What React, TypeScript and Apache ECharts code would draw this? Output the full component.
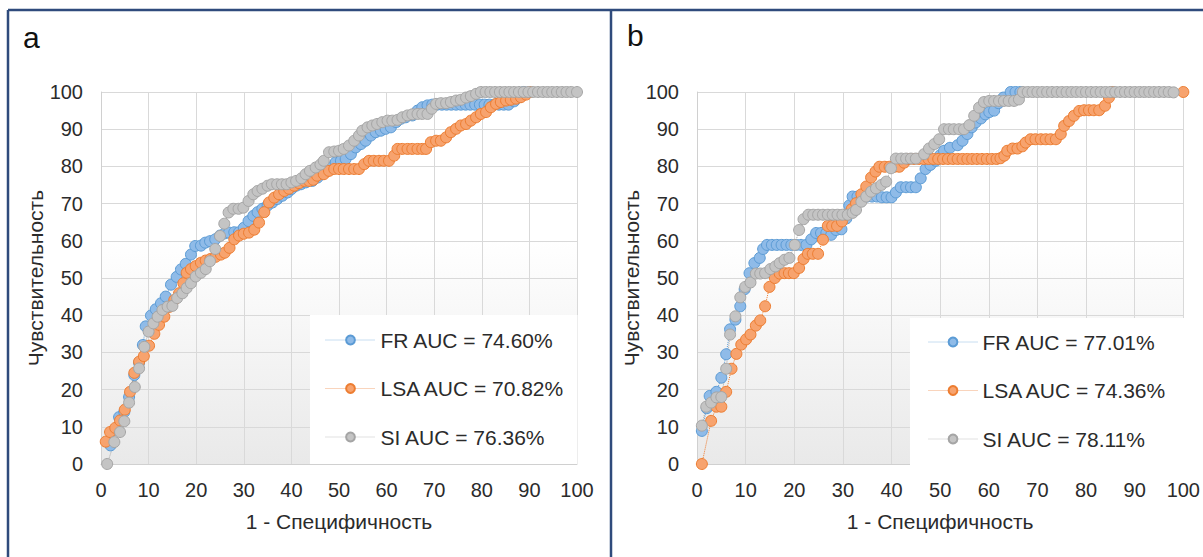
import React, { useEffect, useRef } from "react";
import * as echarts from "echarts";

// ---------- Panel a ----------
const aFR: number[][] = [
  [2, 5], [3, 9.2], [3.8, 12.6], [4.9, 14], [5.9, 18], [7, 23.9], [8, 27.2], [8.8, 32], [9.4, 37], [10.5, 39.9],
  [11.5, 41.6], [12.6, 43.2], [13.6, 45], [14.7, 48.2], [15.9, 50.3], [16.8, 52.3], [17.8, 53.8], [18.9, 56.3],
  [19.8, 58.6], [21, 58.7], [21.9, 59.5], [22.9, 59.9], [24, 60.4], [25, 61.4], [26, 62], [26.9, 62.2], [28, 62.3],
  [29, 62.3], [30, 63.5], [31, 65.3], [32, 66.7], [32.9, 67.7], [33.9, 68.6], [35, 69.5], [36, 70.3], [37, 71.2],
  [38.1, 72.1], [39.2, 73], [40, 73.9], [41, 74.8], [42, 75.2], [43, 75.7], [44.4, 76.1], [45.5, 77], [46.5, 78],
  [47.2, 79], [48.2, 79.7], [49.3, 81.1], [50.4, 81.5], [51.4, 82], [52.5, 83.3], [53.5, 85.1], [54.6, 86],
  [55.6, 86.9], [56.7, 88.3], [57.7, 89.2], [58.8, 89.6], [59.8, 90.1], [60.9, 90.5], [62, 91.9], [63, 92.8],
  [64, 93.2], [65.4, 93.7], [66.5, 95], [67.5, 95.9], [68.6, 96.4], [69.6, 96.6], [70.6, 96.6], [71.6, 96.6],
  [72.6, 96.6], [73.6, 96.6], [74.6, 96.6], [75.6, 96.6], [76.6, 96.6], [77.6, 96.6], [78.6, 96.6], [79.6, 96.6],
  [80.6, 96.6], [81.6, 96.6], [82.6, 96.6], [83.6, 96.6], [84.6, 96.6], [85.6, 96.6], [86.8, 97.5], [87.8, 98.6],
  [88.8, 100],
];
const aLSA: number[][] = [
  [1, 6], [1.9, 8.6], [3, 9.7], [4, 11.7], [5, 14.6], [6.1, 19.4], [7, 24.5], [8, 27.5], [9, 29], [10.1, 31.8],
  [11.2, 35], [12.2, 37.4], [13.3, 39.6], [14.3, 42.2], [15.4, 44.1], [16.4, 45.9], [17.3, 48.6], [18, 51.4],
  [18.9, 52.4], [19.9, 53.2], [21, 54.1], [22, 54.7], [23, 55.1], [24.1, 55.7], [25.2, 56.3], [26, 56.8],
  [27, 58.1], [28, 60.4], [29, 61.4], [30, 61.9], [31.1, 62.2], [32.2, 63], [33.2, 64.9], [34.3, 67.7],
  [35.3, 70.3], [36.4, 71.6], [37.4, 72.5], [38.5, 73.4], [39.5, 74], [40.6, 74.8], [41.6, 75.5], [42.7, 76.1],
  [43.7, 76.1], [44.6, 76.4], [45.4, 77.5], [46.8, 77.9], [47.9, 78.8], [49, 79.3], [50, 79.3], [51, 79.3],
  [52.1, 79.3], [53.2, 79.3], [54.2, 79.3], [55.3, 80.6], [56.3, 81.5], [57.3, 81.5], [58.4, 81.5], [59.4, 81.5],
  [60.5, 81.5], [61.6, 82.9], [62.3, 84.7], [63.3, 84.7], [64.4, 84.7], [65.4, 84.7], [66.5, 84.7], [67.5, 84.7],
  [68.3, 84.7], [69.3, 86.5], [70.4, 86.9], [71.4, 86.9], [72.5, 87.8], [73.5, 89.2], [74.6, 90.1], [75.6, 91],
  [76.7, 91.4], [77.7, 92.3], [78.8, 93.2], [79.8, 94.1], [80.9, 94.6], [81.9, 95.9], [83, 96.8], [84, 97.3],
  [85.1, 97.7], [86.1, 97.9], [87.2, 98.2], [88.2, 98.6], [89.3, 99.3], [90.1, 100],
];
const aSI: number[][] = [
  [1.3, 0], [2.8, 5.9], [4, 8.6], [4.9, 11.5], [5.9, 16.5], [7.1, 20.7], [8, 25.7], [9.1, 31.5], [10, 35.6],
  [11, 37.8], [11.9, 39.6], [12.9, 41.4], [14, 42.3], [15, 42.5], [16, 44.6], [17.1, 45.9], [18, 47.3],
  [18.9, 48.6], [19.9, 50.4], [21, 51.4], [22, 52.4], [22.9, 54.5], [24, 57.8], [25, 61.3], [25.9, 64.6],
  [26.8, 67.6], [27.8, 68.6], [28.9, 68.6], [29.9, 68.9], [31, 70.7], [32, 72.5], [32.9, 73.4], [33.9, 74],
  [35, 74.8], [35.9, 75.2], [37, 75.2], [38, 75.2], [39, 75.2], [40, 75.7], [41, 76.1], [42.1, 76.8], [43, 77.9],
  [43.9, 78.8], [45.1, 79.7], [46.1, 80.5], [46.8, 81.5], [47.9, 83.8], [49, 84], [50, 84.2], [51, 84.7],
  [52.1, 85.6], [53.2, 86.9], [54.2, 88.3], [54.9, 89.6], [56, 90.5], [57, 91], [58, 91.4], [59.1, 91.9],
  [60.2, 92.3], [61.2, 92.3], [62.3, 92.5], [63.3, 93.2], [64.4, 93.7], [65.4, 94], [66.5, 94.1], [67.5, 94.1],
  [68.6, 94.1], [69.5, 95.5], [70.4, 96.8], [71.4, 97], [72.5, 97], [73.5, 97.3], [74.6, 97.7], [75.6, 97.9],
  [76.7, 98.5], [77.7, 98.9], [78.8, 99.5], [79.8, 100], [80.8, 100], [81.8, 100], [82.8, 100], [83.8, 100],
  [84.8, 100], [85.8, 100], [86.8, 100], [87.8, 100], [88.8, 100], [89.8, 100], [90.8, 100], [91.8, 100],
  [92.8, 100], [93.8, 100], [94.8, 100], [95.8, 100], [96.8, 100], [97.8, 100], [98.8, 100], [100, 100],
];

// ---------- Panel b ----------
const bFR: number[][] = [
  [1, 8.9], [2, 15], [2.6, 18.3], [4, 19.4], [5, 23.2], [6, 29.5], [6.8, 36.2], [7.9, 38.8], [8.9, 42.4],
  [9.8, 47], [10.8, 51.3], [11.8, 54], [12.9, 55.4], [13.6, 57.8], [14.4, 58.9], [15.4, 58.9], [16.4, 58.9],
  [17.4, 58.9], [18.4, 58.9], [19.4, 58.9], [20.4, 58.9], [21.4, 58.9], [22.5, 58.9], [23.5, 60.4], [24.5, 62.1],
  [25.5, 62.1], [26.6, 62.1], [27.6, 61.6], [28.6, 62.9], [29.7, 63.1], [30.7, 66], [31.3, 69.5], [32, 71.9],
  [33, 71.9], [34, 71.9], [35, 71.9], [36, 71.9], [37, 71.9], [38, 71.7], [39, 71.7], [40, 71.7], [40.9, 73],
  [41.9, 74.4], [43, 74.4], [44, 74.4], [45, 74.4], [46, 76.8], [47, 79.3], [48, 80.4], [49.1, 81.5], [50, 83],
  [50.8, 84.2], [52, 85], [53.6, 85.7], [54.6, 86.9], [55.6, 88.7], [56.5, 90.5], [57.3, 91.8], [58.4, 92.9],
  [59.3, 94], [60.1, 94.6], [61.1, 95], [62, 97], [63, 98.5], [64.5, 100], [65.5, 100], [66.5, 100],
];
const bLSA: number[][] = [
  [1, 0], [2.9, 11.6], [4, 15.4], [5, 15.4], [6, 19.4], [7.1, 25.6], [8.1, 29.6], [9.1, 32.1], [10.1, 33.5],
  [11, 34.8], [12.1, 37.2], [13, 38.6], [14, 42.4], [14.9, 47.6], [16, 50], [17, 51.2], [18, 51.3], [18.9, 51.3],
  [19.9, 51.3], [21, 52.7], [21.9, 55.1], [22.8, 56.5], [23.8, 56.5], [24.9, 56.5], [25.9, 60.3], [26.9, 64],
  [27.8, 64], [28.8, 64], [29.8, 65.2], [30.8, 67], [31.8, 68.5], [32.7, 70.1], [33.8, 72.5], [34.8, 74.6],
  [35.8, 77], [36.7, 78.6], [37.5, 79.9], [38.6, 79.9], [39.6, 79.9], [40.6, 79.9], [41.6, 79.9], [42.6, 81],
  [43.6, 82], [44.6, 82], [45.6, 82], [46.6, 82], [47.6, 82], [48.6, 82], [49.6, 82], [50.6, 82], [51.6, 82],
  [52.6, 82], [53.6, 82], [54.6, 82], [55.6, 82], [56.6, 82], [57.6, 82], [58.6, 82], [59.6, 82], [60.6, 82],
  [61.6, 82], [62.4, 82.2], [63.2, 82.9], [63.8, 84.2], [64.9, 84.8], [65.9, 84.8], [66.9, 85.4], [67.6, 86.4],
  [68.6, 87.3], [69.6, 87.3], [70.7, 87.3], [71.7, 87.3], [72.7, 87.3], [73.8, 87.3], [74.8, 88.7], [75.5, 90.9],
  [76.5, 92.2], [77.5, 93.6], [78.6, 94.9], [79.6, 95.1], [80.6, 95.1], [81.6, 95.1], [82.7, 95.1], [83.9, 96.3],
  [84.7, 98.5], [85.4, 100], [100, 100],
];
const bSI: number[][] = [
  [1, 10.3], [1.9, 15.4], [2.9, 16.5], [4, 17.9], [5, 18], [6, 25.6], [6.8, 34.8], [7.9, 39.7], [8.9, 44.8],
  [9.9, 47.6], [11, 48.8], [12.1, 51.2], [13, 51.2], [14, 51.3], [15.1, 52.4], [16.1, 53.1], [17, 54], [18, 54.9],
  [19, 55.4], [20.1, 58.9], [21, 62.9], [21.9, 65.8], [22.9, 67], [23.9, 67], [24.9, 67], [25.9, 67], [26.9, 67],
  [27.9, 67], [28.9, 67], [29.9, 67], [31, 67], [32, 67.5], [32.7, 68.3], [33.8, 70.5], [34.8, 71.9], [35.8, 73.2],
  [36.8, 74.1], [37.9, 75], [38.9, 75.9], [39.9, 79.5], [40.9, 82.1], [42, 82.1], [43, 82.1], [44, 82.1],
  [45, 82.1], [46.7, 83.3], [47.7, 84.8], [48.8, 86], [49.8, 87.3], [50.8, 90], [51.8, 90], [52.8, 90], [53.9, 90],
  [54.9, 90], [56, 91.1], [57, 93.6], [58, 95.8], [59, 97.3], [60.1, 97.6], [61.1, 97.6], [62.1, 97.6],
  [63.1, 97.6], [64.1, 97.6], [65.2, 97.6], [66.2, 98], [67, 100], [68, 100], [69, 100], [70, 100], [71, 100],
  [72, 100], [73, 100], [74, 100], [75, 100], [76, 100], [77, 100], [78, 100], [79, 100], [80, 100], [81, 100],
  [82, 100], [83, 100], [84, 100], [85, 100], [86, 100], [87, 100], [88, 100], [89, 100], [90, 100], [91, 100],
  [92, 100], [93, 100], [94, 100], [95, 100], [96, 100], [97, 100], [98, 99.9],
];

const namesA = ["FR AUC = 74.60%", "LSA AUC = 70.82%", "SI AUC = 76.36%"];
const namesB = ["FR AUC = 77.01%", "LSA AUC = 74.36%", "SI AUC = 78.11%"];
const xTitle = "1 - Специфичность";
const yTitle = "Чувствительность";
const panelLabels = ["a", "b"];

const FONT = "'Liberation Sans', Arial, sans-serif";
const TEXT = "#2b2b2b";
const FILLS = ["#8fbbe8", "#f7a36e", "#c4c4c4"];
const STROKES = ["#5b9bd5", "#ed7d31", "#a5a5a5"];
const FRAME = "#2f4b7c";

export default function App() {
  const ref = useRef<HTMLDivElement>(null);
  useEffect(() => {
    if (!ref.current) return;
    const chart = echarts.init(ref.current, undefined, { renderer: "svg" });
    const bg = () =>
      new echarts.graphic.LinearGradient(0, 0, 0, 1, [
        { offset: 0, color: "#ffffff" },
        { offset: 0.4, color: "#ffffff" },
        { offset: 1, color: "#e9e9e9" },
      ]);
    const grids = [
      { left: 101, top: 92, width: 476, height: 372 },
      { left: 697, top: 92, width: 488, height: 372 },
    ].map((g) => ({ ...g, show: true, backgroundColor: bg(), borderWidth: 0 }));
    const axisCommon = {
      type: "value" as const,
      min: 0,
      max: 100,
      interval: 10,
      axisTick: { show: false },
      splitLine: { show: true, lineStyle: { color: "#d9d9d9", width: 1 } },
      axisLine: { show: true, lineStyle: { color: "#d0d0d0", width: 1 } },
      axisLabel: { color: TEXT, fontSize: 20, fontFamily: FONT },
      nameLocation: "middle" as const,
      nameTextStyle: { color: TEXT, fontSize: 21, fontFamily: FONT },
    };
    const xAxes = [0, 1].map((i) => ({
      ...axisCommon,
      gridIndex: i,
      name: xTitle,
      nameGap: 47,
      axisLabel: { ...axisCommon.axisLabel, margin: 16 },
    }));
    const yAxes = [0, 1].map((i) => ({
      ...axisCommon,
      gridIndex: i,
      name: yTitle,
      nameGap: 55,
      axisLabel: { ...axisCommon.axisLabel, margin: 18 },
    }));
    const mk = (name: string, data: number[][], k: number, idx: number) => ({
      type: "line",
      name,
      data,
      xAxisIndex: idx,
      yAxisIndex: idx,
      symbol: "circle",
      symbolSize: 11,
      showSymbol: true,
      showAllSymbol: true,
      lineStyle: { type: "dotted", width: 1, color: STROKES[k] },
      itemStyle: { color: FILLS[k], borderColor: STROKES[k], borderWidth: 1 },
      emphasis: { disabled: true },
      silent: true,
    });
    const series = [
      mk(namesA[0], aFR, 0, 0),
      mk(namesA[1], aLSA, 1, 0),
      mk(namesA[2], aSI, 2, 0),
      mk(namesB[0], bFR, 0, 1),
      mk(namesB[1], bLSA, 1, 1),
      mk(namesB[2], bSI, 2, 1),
    ];
    const legendCommon = {
      orient: "vertical" as const,
      backgroundColor: "#ffffff",
      itemWidth: 50,
      itemHeight: 11,
      itemGap: 24.5,
      selectedMode: false,
      lineStyle: { width: 1, type: "dotted", opacity: 0.65 },
      textStyle: { color: TEXT, fontSize: 21, fontFamily: FONT, lineHeight: 24 },
    };
    chart.setOption({
      animation: false,
      grid: grids,
      xAxis: xAxes,
      yAxis: yAxes,
      series,
      legend: [
        { ...legendCommon, data: namesA, left: 310, top: 315, padding: [13, 12, 15, 15] },
        { ...legendCommon, data: namesB, left: 910, top: 318, padding: [12, 17, 14, 18], itemWidth: 49 },
      ],
      graphic: [
        { type: "line", shape: { x1: 8, y1: 10, x2: 1203, y2: 10 }, style: { stroke: FRAME, lineWidth: 2.5 }, z: 100 },
        { type: "line", shape: { x1: 8, y1: 10, x2: 8, y2: 557 }, style: { stroke: FRAME, lineWidth: 2.5 }, z: 100 },
        { type: "line", shape: { x1: 611, y1: 10, x2: 611, y2: 557 }, style: { stroke: FRAME, lineWidth: 2.5 }, z: 100 },
        {
          type: "text",
          left: 23,
          top: 22,
          style: { text: panelLabels[0], fontSize: 30, fontFamily: FONT, fill: "#111" },
        },
        {
          type: "text",
          left: 627,
          top: 20,
          style: { text: panelLabels[1], fontSize: 30, fontFamily: FONT, fill: "#111" },
        },
      ],
    });
    return () => chart.dispose();
  }, []);
  return (
    <div
      ref={ref}
      style={{ position: "absolute", left: 0, top: 0, width: 1203, height: 557, background: "#fff" }}
    />
  );
}
